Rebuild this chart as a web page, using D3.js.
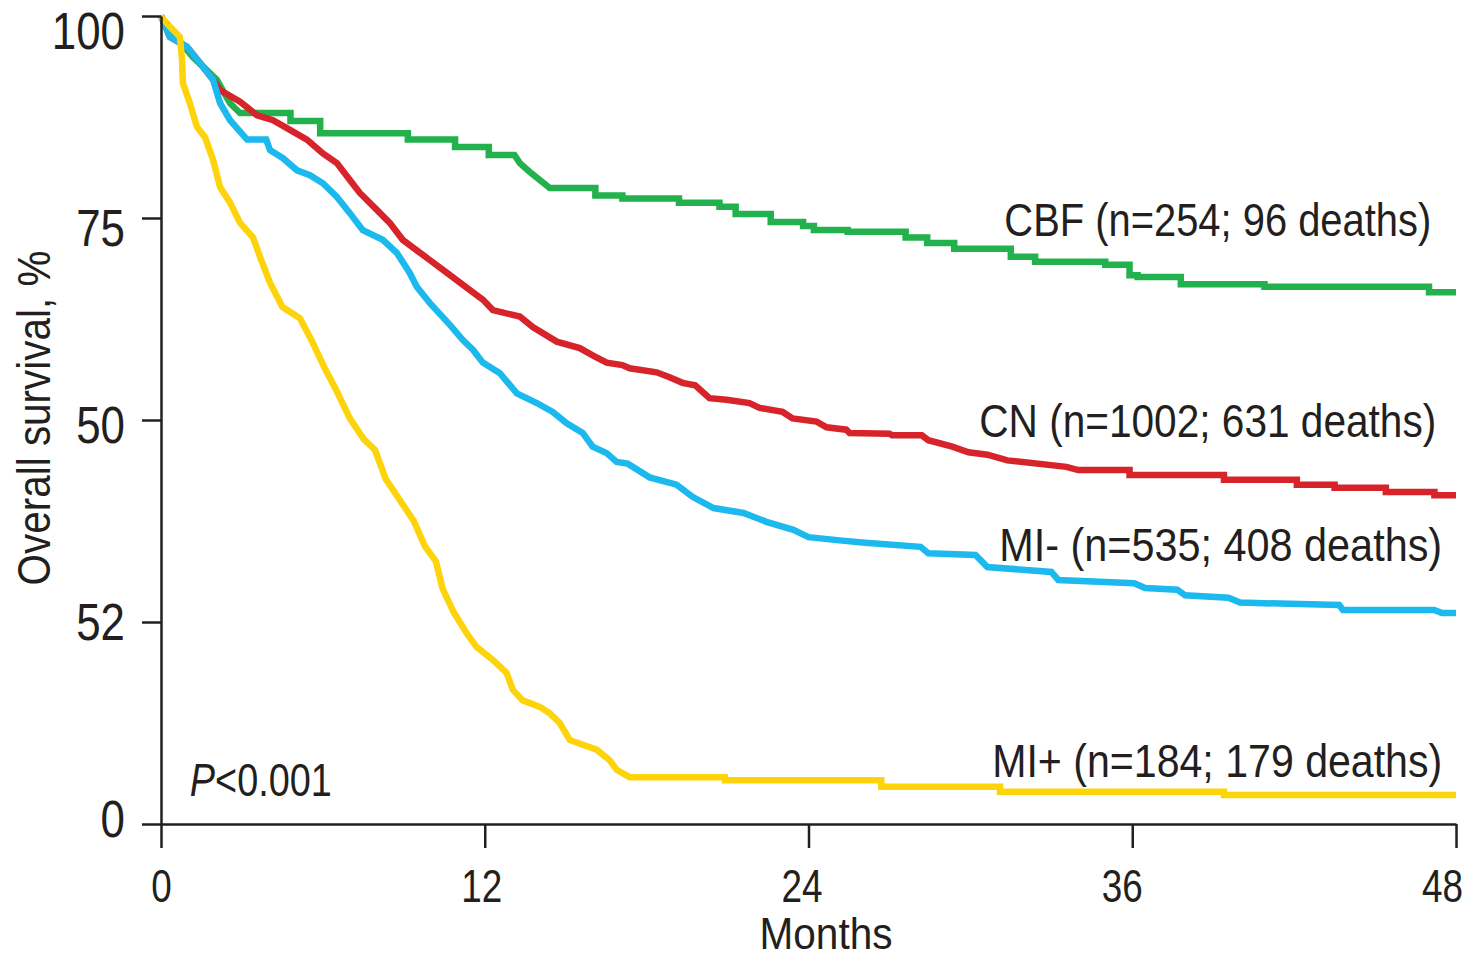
<!DOCTYPE html>
<html>
<head>
<meta charset="utf-8">
<script src="https://cdn.jsdelivr.net/npm/d3@7"></script>
<style>
  body { margin: 0; background: #fff; }
  svg { display: block; }
  text { font-family: "Liberation Sans", Arial, sans-serif; fill: #231f20; }
</style>
</head>
<body>
<svg id="chart" width="1474" height="960"></svg>
<script>
// ---------------- DATA ----------------
const seriesNames = ["CBF", "CN", "MI-", "MI+"];
const seriesLabels = [
  "CBF (n=254; 96 deaths)",
  "CN (n=1002; 631 deaths)",
  "MI- (n=535; 408 deaths)",
  "MI+ (n=184; 179 deaths)"
];
// Curves: [month, overall survival %]
const cbfCurve = [
  [0,100],[0.33,98.3],[1.19,94.9],[2.07,92.1],[2.56,89.2],[2.93,88.0],
  [4.8,88.0],[4.8,87.0],[5.9,87.0],[5.9,85.5],[9.15,85.5],[9.15,84.7],[10.9,84.7],[10.9,83.8],
  [12.15,83.8],[12.15,82.8],[13.1,82.8],[13.3,81.8],[13.67,80.7],[14.04,79.7],[14.41,78.7],
  [16.1,78.7],[16.1,77.8],[17.1,77.8],[17.1,77.4],[19.2,77.4],[19.2,76.9],[20.7,76.9],[20.7,76.4],
  [21.3,76.4],[21.3,75.5],[22.6,75.5],[22.6,74.5],[23.8,74.5],[23.8,74.0],[24.2,74.0],[24.2,73.5],
  [25.45,73.5],[25.45,73.3],[27.6,73.3],[27.6,72.6],[28.4,72.6],[28.4,71.9],[29.4,71.9],[29.4,71.2],
  [31.5,71.2],[31.5,70.2],[32.4,70.2],[32.4,69.6],[35.0,69.6],[35.0,69.2],[35.9,69.2],[35.9,67.9],
  [36.2,67.9],[36.2,67.7],[37.8,67.7],[37.8,66.8],[40.9,66.8],[40.9,66.5],[47.0,66.5],[47.0,65.8],
  [48,65.8]
];
const cnCurve = [
  [0,100],[0.33,97.4],[0.96,96.2],[1.44,94.2],[1.93,92.1],[2.2,90.8],[2.93,89.4],[3.56,87.7],
  [4.15,87.1],[4.78,85.9],[5.41,84.7],[6.0,83.0],[6.52,81.8],[7.0,79.7],[7.37,78.1],[8.0,76.0],
  [8.48,74.4],[8.96,72.3],[9.48,71.0],[9.96,69.8],[10.44,68.6],[10.96,67.3],[11.44,66.1],
  [11.93,64.9],[12.3,63.6],[13.3,62.8],[13.78,61.5],[14.67,59.7],[15.52,58.9],[16.0,58.0],
  [16.52,57.1],[17.1,56.8],[17.37,56.4],[18.37,55.9],[18.85,55.3],[19.33,54.6],[19.8,54.3],
  [20.33,52.7],[20.96,52.5],[21.81,52.1],[22.19,51.5],[23.04,51.0],[23.41,50.2],[24.3,49.8],
  [24.67,49.1],[25.4,48.8],[25.52,48.4],[27.0,48.3],[27.1,48.1],[28.2,48.1],[28.44,47.5],
  [29.33,46.7],[29.93,46.0],[30.63,45.7],[31.37,45.0],[33.56,44.2],[34.0,43.8],[35.9,43.8],
  [35.9,43.2],[39.4,43.2],[39.4,42.6],[42.1,42.6],[42.1,42.0],[43.5,42.0],[43.5,41.6],[45.4,41.6],
  [45.4,41.1],[47.2,41.1],[47.2,40.7],[48,40.7]
];
const miNegCurve = [
  [0,100],[0.33,97.4],[0.96,96.2],[1.44,94.2],[1.93,92.1],[2.19,89.2],[2.56,87.1],[3.19,84.7],
  [3.9,84.7],[4.04,83.4],[4.52,82.4],[5.04,80.9],[5.52,80.3],[6.0,79.3],[6.52,77.6],[7.0,75.6],
  [7.48,73.5],[8.22,72.3],[8.74,70.7],[9.22,68.2],[9.48,66.5],[9.96,64.5],[10.7,61.8],[11.19,59.9],
  [11.56,58.7],[11.93,57.1],[12.56,55.8],[13.19,53.3],[13.93,52.1],[14.52,51.0],[15.04,49.6],
  [15.63,48.4],[16.0,46.7],[16.52,45.9],[16.89,44.8],[17.3,44.6],[18.11,42.9],[19.11,42.0],
  [19.7,40.5],[20.48,39.1],[21.59,38.5],[22.44,37.4],[23.44,36.4],[24.0,35.5],[25.15,35.1],
  [26.1,34.8],[28.15,34.3],[28.44,33.5],[30.19,33.3],[30.63,31.8],[33.0,31.2],[33.26,30.2],
  [36.07,29.8],[36.48,29.2],[37.67,29.0],[37.96,28.3],[39.56,28.0],[40.0,27.4],[43.67,27.1],
  [43.81,26.5],[47.19,26.5],[47.48,26.1],[48,26.1]
];
const miPosCurve = [
  [0,100],[0.1,99.5],[0.44,98.3],[0.7,97.4],[0.78,94.6],[0.81,91.7],[1.07,89.2],[1.33,86.3],
  [1.63,85.0],[1.93,82.2],[2.19,78.8],[2.56,76.9],[2.93,74.4],[3.41,72.6],[3.67,70.2],[4.04,67.0],
  [4.5,64.0],[5.15,62.6],[5.56,60.0],[6.07,56.4],[6.48,53.8],[7.0,50.2],[7.52,47.6],[7.93,46.3],
  [8.33,42.7],[8.85,40.1],[9.37,37.5],[9.78,34.4],[10.19,32.5],[10.44,29.1],[10.85,26.2],
  [11.33,23.6],[11.7,21.9],[12.3,20.3],[12.81,18.7],[13.04,16.6],[13.41,15.3],[14.04,14.5],
  [14.41,13.7],[14.78,12.5],[15.15,10.4],[15.63,9.8],[16.15,9.2],[16.63,7.9],[16.89,6.7],
  [17.37,5.8],[20.9,5.8],[20.9,5.4],[26.7,5.4],[26.7,4.6],[31.1,4.6],[31.1,4.0],[39.4,4.0],
  [39.4,3.6],[48,3.6]
];
const xTickValues = [0, 12, 24, 36, 48];
const xTickLabels = ["0", "12", "24", "36", "48"];
const yTickValues = [0, 25, 50, 75, 100];
const yTickLabels = ["0", "52", "50", "75", "100"];   // as printed in the original figure
const xAxisTitle = "Months";
const yAxisTitle = "Overall survival, %";
const pValueItalic = "P";
const pValueRest = "<0.001";

// ---------------- LAYOUT / STYLE ----------------
const curves = [cbfCurve, cnCurve, miNegCurve, miPosCurve];
const colors = ["#22b14c", "#d7232a", "#1cb9ee", "#fdd30c"];
// label left-start anchors in data coordinates [month, %] (baseline) and printed widths (px)
const labelAnchors = [[31.26, 72.8], [30.33, 47.9], [31.07, 32.55], [30.81, 5.8]];
const labelWidths = [427, 457, 443, 450];

const svg = d3.select("#chart");
const x = d3.scaleLinear().domain([0, 48]).range([161, 1456]);
const y = d3.scaleLinear().domain([0, 100]).range([824, 16]);
// tick label placement in the printed figure is slightly compressed relative to ticks
const xLabelPos = d3.scaleLinear().domain([0, 48]).range([161, 1442]);
const yLabelPos = d3.scaleLinear().domain([0, 100]).range([818, 30]);

// condensed look: squeeze a text horizontally around its anchor to a printed width
function squeeze(node, tx, ty, w, rot) {
  node.setAttribute("x", 0);
  node.setAttribute("y", 0);
  const n = node.getComputedTextLength();
  const s = w / n;
  node.setAttribute("transform",
    `translate(${tx},${ty})` + (rot ? ` rotate(${rot})` : "") + ` scale(${s},1)`);
}

// curves
const line = d3.line().x(d => x(d[0])).y(d => y(d[1])).curve(d3.curveLinear);
svg.append("g").selectAll("path")
  .data(curves)
  .join("path")
  .attr("d", d => line(d))
  .attr("fill", "none")
  .attr("stroke", (d, i) => colors[i])
  .attr("stroke-width", 6.5)
  .attr("stroke-linejoin", "miter")
  .attr("stroke-miterlimit", 2);

// axes
const yAxis = d3.axisLeft(y).tickValues(yTickValues)
  .tickFormat((d, i) => yTickLabels[i]).tickSize(19).tickSizeOuter(0);
const gy = svg.append("g").attr("transform", `translate(${x(0)},0)`).call(yAxis);
gy.selectAll("text")
  .attr("dy", "0.36em")
  .style("font-size", "52px")
  .each(function(d, i) { squeeze(this, -36, yLabelPos(d) - y(d), 24.4 * yTickLabels[i].length); });

const xAxis = d3.axisBottom(x).tickValues(xTickValues)
  .tickFormat((d, i) => xTickLabels[i]).tickSize(24).tickSizeOuter(0);
const gx = svg.append("g").attr("transform", `translate(0,${y(0)})`).call(xAxis);
gx.selectAll("text")
  .attr("dy", 0)
  .style("font-size", "47px")
  .each(function(d, i) { squeeze(this, xLabelPos(d) - x(d), 78, 20.5 * xTickLabels[i].length); });

svg.selectAll(".domain, .tick line").attr("stroke", "#231f20").attr("stroke-width", 2.5);
svg.selectAll(".tick text").attr("fill", "#231f20");

// series labels
svg.append("g").selectAll("text")
  .data(seriesLabels)
  .join("text")
  .attr("text-anchor", "start")
  .style("font-size", "46px")
  .text(d => d)
  .each(function(d, i) {
    squeeze(this, x(labelAnchors[i][0]), y(labelAnchors[i][1]), labelWidths[i]);
  });

// p-value
const pt = svg.append("text").style("font-size", "47px");
pt.append("tspan").style("font-style", "italic").text(pValueItalic);
pt.append("tspan").text(pValueRest);
squeeze(pt.node(), x(1.07), y(3.47), 142);

// axis titles
const yt = svg.append("text")
  .attr("text-anchor", "middle")
  .style("font-size", "47px")
  .text(yAxisTitle);
squeeze(yt.node(), 50, 418, 335, -90);
const xt = svg.append("text")
  .attr("text-anchor", "middle")
  .style("font-size", "45px")
  .text(xAxisTitle);
squeeze(xt.node(), 826, 949, 133);
</script>
</body>
</html>
